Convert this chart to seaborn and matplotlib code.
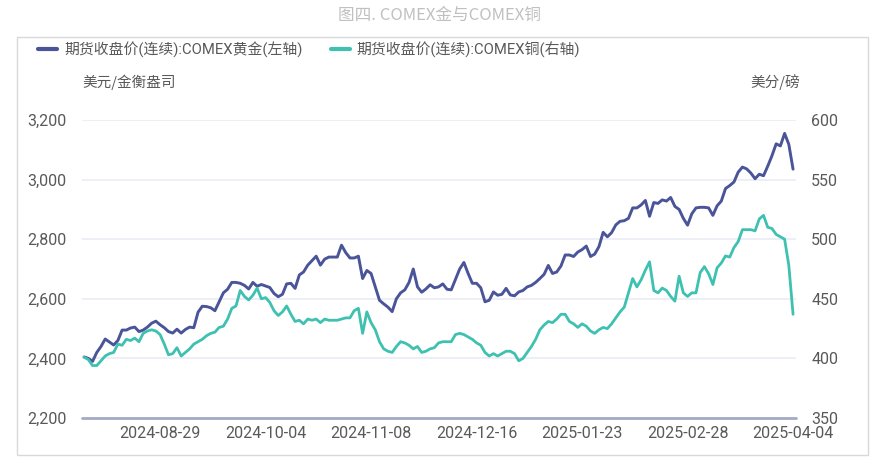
import numpy as np
import pandas as pd
import matplotlib
matplotlib.use("Agg")
import matplotlib.pyplot as plt
from matplotlib.patches import Rectangle
from matplotlib.lines import Line2D
import seaborn as sns

# ---- data ----
gold = [2405, 2400, 2390, 2420, 2440, 2465, 2455, 2445, 2460, 2495,
        2495, 2502, 2505, 2490, 2495, 2505, 2518, 2525, 2513, 2503,
        2490, 2485, 2498, 2485, 2497, 2505, 2503, 2555, 2575, 2574,
        2570, 2560, 2590, 2620, 2632, 2655, 2655, 2652, 2645, 2633,
        2655, 2642, 2648, 2643, 2638, 2618, 2607, 2615, 2650, 2652,
        2635, 2680, 2690, 2713, 2728, 2743, 2713, 2733, 2740, 2740,
        2740, 2780, 2755, 2737, 2737, 2743, 2668, 2695, 2685, 2640,
        2595, 2583, 2572, 2557, 2600, 2620, 2630, 2655, 2700, 2640,
        2622, 2633, 2647, 2637, 2640, 2650, 2632, 2630, 2665, 2700,
        2722, 2685, 2652, 2652, 2637, 2590, 2595, 2623, 2612, 2615,
        2635, 2613, 2610, 2623, 2628, 2640, 2645, 2655, 2668, 2682,
        2712, 2685, 2690, 2710, 2747, 2747, 2742, 2757, 2765, 2777,
        2742, 2750, 2775, 2823, 2808, 2822, 2848, 2860, 2862, 2870,
        2905, 2905, 2915, 2930, 2877, 2923, 2920, 2932, 2928, 2940,
        2910, 2900, 2870, 2847, 2885, 2905, 2907, 2907, 2905, 2880,
        2912, 2928, 2970, 2980, 2992, 3025, 3042, 3036, 3022, 3003,
        3018, 3013, 3045, 3080, 3120, 3113, 3155, 3118, 3035]

copper = [401, 399, 394, 394, 398, 402, 404, 405, 412, 411,
          416, 415, 417, 414, 421, 423, 424, 423, 420, 412,
          403, 404, 409, 402, 405, 408, 412, 414, 416, 419,
          421, 422, 426, 427, 433, 442, 444, 457, 452, 449,
          453, 459, 450, 451, 447, 440, 436, 439, 444, 437,
          431, 432, 429, 433, 432, 433, 430, 433, 432, 432,
          432, 433, 434, 434, 440, 442, 421, 439, 430, 424,
          414, 408, 406, 405, 410, 414, 413, 411, 408, 410,
          405, 406, 408, 409, 413, 414, 414, 414, 420, 421,
          420, 418, 416, 413, 411, 405, 402, 404, 402, 404,
          406, 406, 404, 398, 400, 405, 410, 416, 424, 428,
          431, 430, 433, 437, 437, 431, 429, 426, 429, 427,
          423, 421, 424, 426, 425, 429, 434, 439, 443, 455,
          467, 460, 466, 474, 481, 457, 455, 459, 457, 452,
          448, 469, 455, 452, 455, 455, 472, 477, 471, 462,
          476, 480, 486, 485, 493, 498, 508, 508, 508, 507,
          517, 520, 510, 509, 504, 502, 500, 478, 437]

tick_labels = ["2024-08-29", "2024-10-04", "2024-11-08", "2024-12-16",
               "2025-01-23", "2025-02-28", "2025-04-04"]
tick_index = [18, 43, 68, 93, 118, 143, 168]

left_ticks = [2200, 2400, 2600, 2800, 3000, 3200]
right_ticks = [350, 400, 450, 500, 550, 600]

title = "图四. COMEX金与COMEX铜"
gold_name = "期货收盘价(连续):COMEX黄金(左轴)"
copper_name = "期货收盘价(连续):COMEX铜(右轴)"
left_unit = "美元/金衡盎司"
right_unit = "美分/磅"

df = pd.DataFrame({"idx": np.arange(len(gold)), "gold": gold, "copper": copper})

# ---- style ----
sns.set_theme(style="white")
plt.rcParams["font.family"] = ["Roboto", "Noto Sans CJK SC", "DejaVu Sans"]
plt.rcParams["axes.unicode_minus"] = False

GOLD_C = "#4A5499"
COPPER_C = "#3EC1B0"
TXT = "#595959"
GRID = "#EBEBF5"

W, H = 878, 461
fig = plt.figure(figsize=(W / 100, H / 100), dpi=100)
fig.patch.set_facecolor("white")

def fx(px):
    return px / W

def fy(py):
    return 1 - py / H

ax_left, ax_right_px = 82, 796
ax_top, ax_bot = 120, 418
ax = fig.add_axes([fx(ax_left), fy(ax_bot), fx(ax_right_px - ax_left), (ax_bot - ax_top) / H])
ax2 = ax.twinx()

sns.lineplot(data=df, x="idx", y="gold", ax=ax, color=GOLD_C, linewidth=2.1, legend=False)
sns.lineplot(data=df, x="idx", y="copper", ax=ax2, color=COPPER_C, linewidth=2.0, legend=False)

n = len(gold)
ax.set_xlim(-0.5, n - 0.3)
ax.set_ylim(2200, 3200)
ax2.set_ylim(350, 600)
ax.set_yticks(left_ticks)
ax.set_yticklabels([f"{v:,}" for v in left_ticks])
ax2.set_yticks(right_ticks)
ax2.set_yticklabels([str(v) for v in right_ticks])
ax.set_xticks(tick_index)
ax.set_xticklabels(tick_labels)

for a in (ax, ax2):
    a.set_xlabel("")
    a.set_ylabel("")
    for s in a.spines.values():
        s.set_visible(False)
    a.tick_params(length=0, labelsize=11.5, colors=TXT)
    a.set_facecolor("none")

ax.tick_params(axis="y", pad=11)
ax2.tick_params(axis="y", pad=11)
ax.tick_params(axis="x", pad=6)

ax.grid(False)
ax2.grid(False)
for v in left_ticks[1:]:
    ax.axhline(v, color=GRID, linewidth=1.2, zorder=0)
ax.axhline(2200, color="#A3AAC6", linewidth=2.0, zorder=1, clip_on=False)
ax.set_zorder(2)
ax2.set_zorder(3)

# frame box
fig.patches.append(Rectangle((fx(17), fy(455)), fx(868 - 17), (455 - 37) / H,
                             transform=fig.transFigure, fill=False,
                             edgecolor="#D9D9D9", linewidth=1.0))

# title
fig.text(0.5, fy(15), title, ha="center", va="center", fontsize=12,
         color="#C0C0C0", family=["Noto Sans CJK SC", "DejaVu Sans"])

# units
fig.text(fx(82), fy(82), left_unit, ha="left", va="center", fontsize=10.5,
         color=TXT, family=["Noto Sans CJK SC", "DejaVu Sans"])
fig.text(fx(800), fy(82), right_unit, ha="right", va="center", fontsize=10.5,
         color=TXT, family=["Noto Sans CJK SC", "DejaVu Sans"])

# legend
handles = [Line2D([0], [0], color=GOLD_C, linewidth=3),
           Line2D([0], [0], color=COPPER_C, linewidth=3)]
leg = fig.legend(handles, [gold_name, copper_name], loc="center left",
                 bbox_to_anchor=(fx(38), fy(50)), ncol=2, frameon=False,
                 fontsize=10.7, handlelength=1.3, handletextpad=0.45,
                 columnspacing=1.9, borderpad=0, borderaxespad=0)
for t in leg.get_texts():
    t.set_color(TXT)

fig.savefig("out.png", dpi=100, facecolor="white")
